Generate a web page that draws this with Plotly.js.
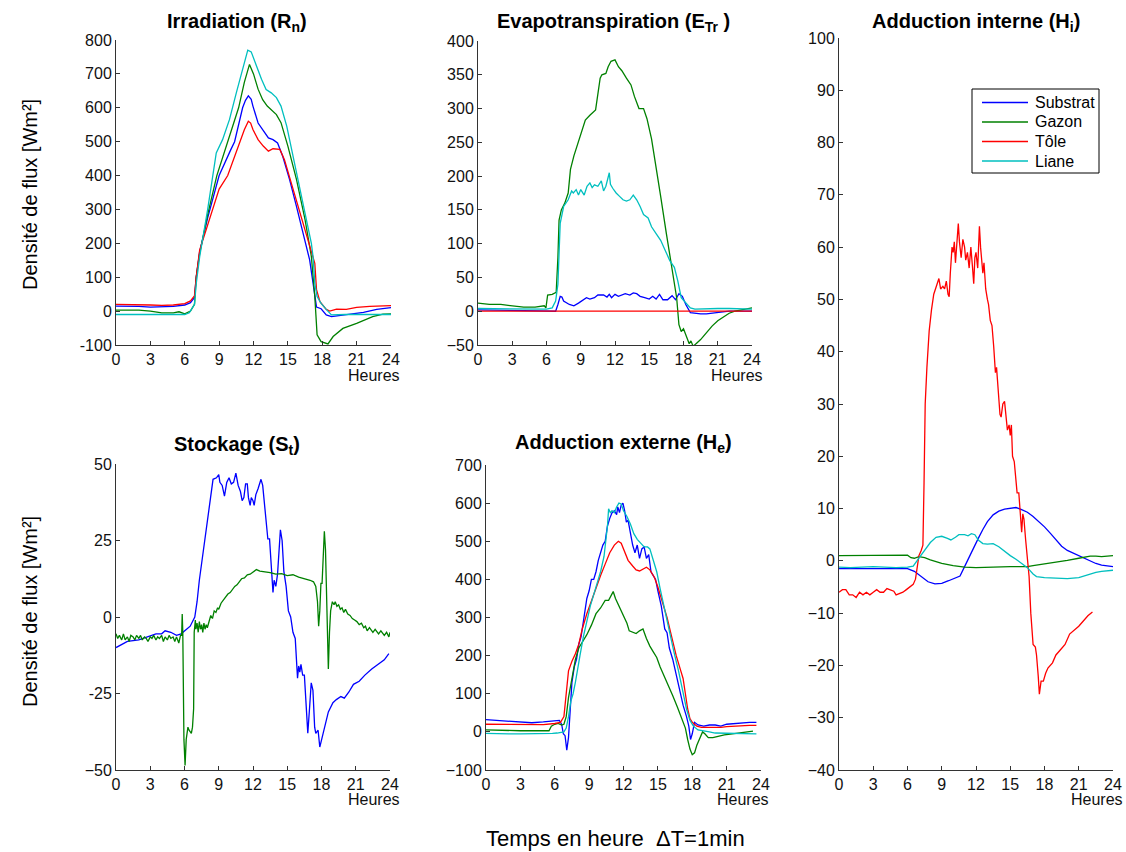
<!DOCTYPE html>
<html>
<head>
<meta charset="utf-8">
<script src="https://cdn.plot.ly/plotly-3.0.1.min.js"></script>
<style>
html,body{margin:0;padding:0;background:#fff;}
#chart{width:1126px;height:852px;}
</style>
</head>
<body>
<div id="chart"></div>
<script>
// ---------- Data ----------
const hourTicks = [0,3,6,9,12,15,18,21,24];
const seriesNames = ['Substrat','Gazon','Tôle','Liane'];
const seriesColors = ['#0000FF','#008000','#FF0000','#00BFBF'];

// Irradiation (Rn)
const irrSubT = [0,1,2,3,4,5,6,6.5,6.85,7,7.3,8,9,9.5,10,10.35,10.7,11.05,11.3,11.55,11.8,11.95,12.4,12.85,13.3,13.7,14.1,14.55,15.15,15.75,16.3,16.9,17.2,17.5,17.9,18.35,18.8,19.4,20.7,21.6,22.75,24];
const irrSubV = [15,15,14,12,12,14,18,25,40,100,175,275,400,440,475,500,550,600,622,635,625,605,555,531,511,506,496,457,388,309,231,151,82,12,7,-11,-16,-13,-8,-4,5,10];
const irrGazT = [0,1,2,3,4,5,5.5,6,6.5,6.85,7,7.3,8,8.8,9.5,10.2,10.7,11.2,11.65,12,12.4,12.8,13.2,14,14.4,15,15.75,16.5,17.05,17.35,17.55,17.9,18.5,18.95,19.8,21,21.85,22.4,23.3,24];
const irrGazV = [3,3,3,0,-5,-5,-2,-8,0,20,100,170,285,400,475,545,600,675,728,700,655,624,605,580,556,487,389,270,161,43,-70,-90,-97,-75,-51,-36,-24,-16,-9,-8];
const irrToleT = [0,1,2,3,4,5,6,6.5,6.85,7,7.3,8,9,9.75,10.3,10.8,11.2,11.55,11.75,11.95,12.4,12.85,13.3,13.7,14.3,14.7,15.3,15.9,16.5,17.05,17.35,17.5,17.8,18.35,18.65,19.25,20.1,21,22.15,24];
const irrToleV = [20,20,20,18,17,18,22,30,45,100,180,255,360,400,450,500,535,560,555,536,506,487,472,479,477,447,378,309,245,181,141,63,28,5,0,6,5,11,14,16];
const irrLianeT = [0,2,4,6,6.4,6.85,7,7.3,8,8.75,9.3,9.9,10.5,11.1,11.5,11.8,12.25,12.7,13.1,13.55,14,14.4,14.9,15.45,16,16.6,17.05,17.2,17.35,17.55,17.9,18.35,18.8,20,22,24];
const irrLianeV = [-10,-10,-10,-10,-5,20,80,160,300,467,506,565,644,723,770,765,723,684,654,644,630,605,546,457,368,279,200,160,82,43,23,5,-11,-10,-10,-10];

// Evapotranspiration (ETr)
const etSubT = [0,3,6,6.8,7.0,7.2,7.35,7.5,8.0,8.4,8.8,9.2,9.5,9.8,10.2,10.5,11,11.3,11.5,11.7,12,12.3,12.6,12.9,13.3,13.6,13.9,14.2,14.6,15,15.3,15.6,15.9,16.2,16.6,17.0,17.3,17.6,17.9,18.2,18.6,19,19.5,20,21,22,23,24];
const etSubV = [2,1,1,0,10,22,21,15,10,8,12,17,20,18,20,24,24,21,25,20,25,22,24,26,24,27,26,22,20,18,22,18,25,17,17,23,17,26,22,10,-2,-3,-4,-4,-2,0,0,0];
const etGazT = [0,1,2,3,4,5,5.8,5.95,6.1,6.5,6.85,7.0,7.1,7.3,7.6,7.9,8.1,8.4,8.8,9.2,9.4,9.8,10.3,10.7,10.85,11.2,11.4,11.65,12.0,12.3,12.6,13.0,13.4,13.7,14.1,14.5,14.8,15.2,15.6,16.0,16.5,17.0,17.4,17.6,17.8,18.0,18.3,18.5,18.65,18.85,19.1,19.5,20,20.5,21,21.5,22,22.5,23,23.5,24];
const etGazV = [12,10,10,8,6,6,8,5,24,25,28,80,135,150,160,175,210,230,250,270,283,290,298,345,350,352,362,370,372,362,356,345,335,318,300,300,285,255,215,170,115,60,20,-20,-30,-26,-40,-48,-44,-52,-48,-42,-32,-22,-14,-8,-3,0,2,4,5];
const etToleT = [0,24];
const etToleV = [0,0];
const etLianeT = [0,3,6,6.5,6.8,7.0,7.1,7.2,7.5,7.9,8.2,8.35,8.6,8.8,9.0,9.3,9.55,9.8,10.0,10.2,10.5,10.8,11.0,11.2,11.5,11.6,11.8,12.1,12.4,12.7,13.0,13.3,13.6,13.9,14.2,14.5,14.9,15.2,15.6,16.0,16.4,16.8,17.2,17.5,17.8,18.2,18.6,19,20,21,22,23,24];
const etLianeV = [4,3,3,5,15,40,100,130,155,165,178,175,180,172,180,172,185,190,183,187,185,193,178,185,205,188,182,175,170,165,163,165,172,165,155,143,138,125,115,105,90,75,65,45,20,12,5,3,4,4,4,3,3];

// Stockage (St)
const stSubT = [0,0.5,1,2,3,3.5,4,4.3,4.8,5.3,5.7,6,6.5,6.9,7.1,7.3,7.6,7.9,8.2,8.5,8.8,9.0,9.1,9.3,9.5,9.7,9.9,10.1,10.3,10.5,10.7,10.9,11.05,11.2,11.35,11.5,11.6,11.75,11.85,12.0,12.1,12.25,12.45,12.7,12.85,13.0,13.15,13.3,13.45,13.55,13.65,13.75,13.85,14.0,14.15,14.3,14.4,14.55,14.7,14.9,15.1,15.3,15.5,15.7,15.8,15.9,16.0,16.1,16.2,16.35,16.5,16.65,16.8,16.95,17.1,17.25,17.4,17.5,17.7,17.85,18.0,18.3,18.6,19.0,19.3,19.7,20.0,20.4,20.8,21.3,21.8,22.4,23,23.5,23.9];
const stSubV = [-10,-9,-8,-7.5,-6,-5.5,-5.5,-4.5,-5,-6,-5.5,-4.5,-3,0,5,12,20,28,37,45,45.5,46.5,44,43,39.5,44,45.5,43.5,44,47,43,41,38,39,43.5,43.5,39,36.5,39,38,36.5,40,42,45,43,37,30,25.5,25.5,20,14,8,12,10,14,24,28.5,25,15,10,2,0,-5,-7,-15,-20,-16,-18,-15.5,-19,-19,-28,-38,-30,-21.5,-24,-36,-38,-37,-42.5,-40,-36,-31,-28,-27,-26,-26.5,-24.5,-22,-21,-19,-17,-15.5,-14,-12];
const stGazT = [0,0.15,0.3,0.5,0.65,0.8,1,1.15,1.3,1.5,
  1.65,1.8,2,2.15,2.3,2.5,2.65,2.8,3,3.15,
  3.3,3.5,3.65,3.8,4,4.15,4.3,4.5,4.65,4.8,
  5,5.15,5.3,5.5,5.65,5.75,5.8,5.85,5.95,6.05,
  6.15,6.3,6.4,6.6,6.7,6.8,6.85,6.95,7.0,7.1,
  7.2,7.3,7.4,7.5,7.6,7.7,7.8,7.9,8.0,8.15,
  8.3,8.45,8.6,8.75,8.9,9.0,9.2,9.4,9.6,9.8,
  10.0,10.2,10.4,10.6,10.8,11.0,11.25,11.5,11.75,12.0,
  12.3,12.6,13,13.5,14,14.5,15,15.5,16,16.5,
  17,17.3,17.5,17.65,17.75,17.85,17.95,18.05,18.15,18.25,
  18.35,18.45,18.55,18.6,18.7,18.8,18.95,19.1,19.2,19.35,
  19.5,19.65,19.8,19.95,20.1,20.3,20.5,20.7,20.9,21.1,
  21.3,21.5,21.7,21.85,22.0,22.2,22.5,22.7,23,23.2,
  23.5,23.7,23.9,24];
const stGazV = [-5.5,-7,-6,-7.5,-5.5,-7.5,-6.5,-8,-6,-6.5,
  -7.5,-6,-7,-6,-7.5,-6.5,-7,-8,-6.5,-7,
  -6,-7.5,-6.5,-7,-6,-8,-6.5,-7.5,-6,-7,
  -6.5,-8,-6.5,-8.5,-6,-6,1,-5,-40,-48.5,
  -40,-36,-37,-38,-36,-30,-5,-1,-4,-2,
  -5,-1.5,-4,-2.5,-5,-2,-4,-2.5,-3.5,-1,
  0.5,-0.5,2,1.5,3,2.5,4.5,5.5,6.5,7.5,
  8,9,10,10.5,11.5,12.5,12.8,13.8,14,14.8,
  15.5,15,14.8,14.5,14,14.2,13.5,13.8,13,12.6,
  12,11.5,10,5,-3,2,11,11,22,28,
  22,5,-10,-17,-5,2,5,4,5,3.5,
  4,2.5,3,1.5,2.5,1,0.5,-0.5,-1,-1.5,
  -2.5,-2,-3.5,-3,-4.5,-3.5,-5,-4,-5.5,-4.5,
  -6,-5,-6.5,-5];

// Adduction externe (He)
const heSubT = [0,1,2,3,4,5,6,6.4,6.6,6.75,6.9,7.05,7.2,7.35,7.5,7.7,7.9,8.1,8.3,8.5,8.8,9.0,9.2,9.4,9.6,9.8,10.0,10.2,10.4,10.6,10.8,11.0,11.2,11.4,11.5,11.65,11.8,11.95,12.1,12.25,12.4,12.6,12.8,13.0,13.2,13.4,13.6,13.8,14.0,14.2,14.4,14.6,14.8,15.0,15.3,15.6,15.8,16.0,16.3,16.6,16.9,17.2,17.5,17.7,17.85,18.0,18.2,18.5,19.0,19.5,20.0,20.5,21,22,23,23.6];
const heSubV = [32,30,28,25,24,26,28,30,20,-5,-10,-48,-15,60,130,170,190,230,250,290,350,370,400,400,420,450,470,490,500,540,560,575,580,570,590,575,595,600,580,550,555,520,490,470,490,455,480,485,455,465,420,410,400,370,330,270,260,220,190,150,110,70,40,15,-20,-5,25,18,15,18,18,15,20,23,25,25];
const heGazT = [0,1,2,3,4,5,5.5,5.7,6.0,6.3,6.6,6.8,7.0,7.2,7.5,7.8,8.1,8.4,8.8,9.2,9.6,10.0,10.4,10.7,11.0,11.1,11.3,11.7,12.0,12.3,12.5,12.8,13.1,13.4,13.7,14.0,14.3,14.6,14.9,15.2,15.5,15.9,16.3,16.7,17.1,17.4,17.6,17.8,18.0,18.2,18.4,18.7,18.9,19.1,19.4,19.8,20.2,20.8,21.5,22.3,23.0,23.3];
const heGazV = [5,4,4,3,3,3,3,15,20,22,18,20,40,90,140,190,220,235,255,280,310,325,345,345,365,368,350,325,305,285,265,262,258,265,270,245,225,210,195,170,150,125,95,65,35,10,-20,-45,-60,-55,-35,-15,0,-5,-15,-15,-12,-8,-5,-2,1,2];
const heToleT = [0,1,2,3,4,5,6,6.5,6.8,7.0,7.2,7.5,7.8,8.1,8.4,8.8,9.2,9.6,10.0,10.4,10.8,11.2,11.55,11.8,12.1,12.4,12.8,13.1,13.4,13.7,14.0,14.3,14.7,15.0,15.4,15.8,16.2,16.6,17.0,17.2,17.4,17.6,17.8,18.0,18.4,18.8,19.5,20.5,21,22,23,23.6];
const heToleV = [20,20,20,19,19,19,22,25,40,100,160,185,205,230,270,310,345,380,410,440,470,490,500,495,470,450,435,425,422,428,432,425,405,380,340,300,250,200,160,140,100,60,35,25,15,12,12,12,14,16,17,17];
const heLianeT = [0,1,2,3,4,5,5.8,6.2,6.5,6.8,7.0,7.2,7.4,7.6,7.8,8.0,8.2,8.5,8.8,9.1,9.4,9.7,10.0,10.3,10.6,10.7,10.85,11.0,11.2,11.4,11.6,11.8,12.0,12.3,12.6,12.9,13.2,13.5,13.8,14.1,14.3,14.6,14.9,15.2,15.6,16.0,16.4,16.8,17.2,17.5,17.8,18.1,18.5,19.0,19.5,20,21,22,23,23.6];
const heLianeV = [-4,-5,-5,-5,-5,-5,-4,-3,-2,0,10,40,80,100,130,170,200,250,290,330,360,390,420,460,540,585,575,580,575,590,600,598,580,565,545,520,505,495,485,485,480,450,420,375,320,260,210,160,105,60,30,15,5,3,0,-3,-4,-5,-5,-5];

// Adduction interne (Hi)
const hiSubT = [0,3,6,6.6,7.2,7.8,8.4,9.0,9.6,10.2,10.6,11.0,11.4,11.8,12.2,12.6,13.0,13.5,14.0,14.5,15.0,15.5,16.0,16.5,17,17.5,18,18.5,19,19.5,20,20.5,21,21.5,22,22.5,23,24];
const hiSubV = [-1.5,-1.5,-1.5,-2,-3,-4,-4.4,-4.3,-3.8,-3.3,-2.9,-1.1,0.8,2.4,4.3,6,7.5,8.8,9.5,9.9,10.1,10.2,9.8,9.3,8.5,7.5,6.5,5.3,4,2.8,2,1.5,1,0.4,-0.1,-0.5,-0.8,-1.1];
const hiGazT = [0,6,6.3,6.6,7.0,7.5,8,8.5,9,10,10.5,11,12,13,14,15,16,16.5,17,18,19,20,21,22,22.5,23,24];
const hiGazV = [1,1.1,0.6,0.5,0.8,0.6,0.2,-0.2,-0.5,-0.9,-1.1,-1.2,-1.3,-1.2,-1.2,-1.1,-1.1,-1.1,-0.9,-0.6,-0.3,0.1,0.5,0.9,0.9,0.8,1];
const hiToleT = [0,0.3,0.6,0.9,1.2,1.5,1.8,2.1,2.4,2.7,3.0,3.3,3.6,3.9,4.2,4.5,4.8,5.0,5.3,5.6,5.9,6.2,6.5,6.7,6.9,7.0,7.2,7.35,7.45,7.55,7.7,7.9,8.1,8.3,8.6,8.75,8.9,9.1,9.25,9.4,9.55,9.65,9.75,9.9,10.0,10.1,10.2,10.3,10.45,10.55,10.7,10.85,11.0,11.1,11.25,11.4,11.55,11.7,11.8,11.9,12.0,12.15,12.3,12.4,12.5,12.6,12.7,12.85,13.0,13.1,13.25,13.4,13.55,13.7,13.8,13.95,14.1,14.2,14.35,14.5,14.6,14.75,14.9,15.0,15.1,15.2,15.35,15.45,15.6,15.75,15.85,16.0,16.1,16.2,16.35,16.5,16.65,16.8,16.9,17.0,17.2,17.3,17.45,17.55,17.7,17.9,18.1,18.3,18.7,19.0,19.4,19.8,20.2,20.6,21.0,21.4,21.8,22.2];
const hiToleV = [-6,-5.5,-5.5,-6.5,-6.5,-7,-6,-6.5,-6,-6.5,-6,-5.5,-6,-6,-5.3,-5.5,-5.8,-6.5,-6.3,-6,-5.5,-5,-4.5,-3.5,-1,1,2,3,15,30,37,44,48,51,53,54,52,52.5,52,53.5,51,50.5,55,60,59,61,57,60,64.5,61,58,61.5,60,57.5,59,56,60,56,53,58,59,56,64,60,58,55,57,52,50,49,46,45,41,36,37,33,28,27.5,30,30.5,28,25,26,24,26,20,19,17,13,13,9,5.5,9,8,4,1,-3,-10,-14,-16,-16.5,-18,-22,-25.5,-23,-23,-21.5,-20.5,-19.5,-18,-17,-16,-14,-13.3,-12.5,-11.5,-10.5,-9.8];
const hiLianeT = [0,1,2,3,4,5,6,6.5,7.0,7.5,8.0,8.5,9.0,9.5,9.8,10.2,10.5,11,11.3,11.6,11.9,12.2,12.6,13,13.5,14,14.5,15,15.5,16,16.5,17,17.3,18,19,19.5,20,21,22,22.5,23,24];
const hiLianeV = [-1.2,-1.3,-1.2,-1.1,-1.2,-1.3,-1.2,-1,0.5,2,3.5,4.5,4.7,4.3,4,4.5,5,5,4.8,5.2,5,4,3.3,3.2,3.3,2.7,1.8,1,0.3,-0.5,-1.3,-2.5,-3,-3.2,-3.3,-3.4,-3.4,-3.2,-2.5,-2.2,-2,-1.8];

// Y tick labels
const irrTicks = [-100,0,100,200,300,400,500,600,700,800];
const irrTickText = ['-100','0','100','200','300','400','500','600','700','800'];
const etTicks = [-50,0,50,100,150,200,250,300,350,400];
const etTickText = ['\u221250','0','50','100','150','200','250','300','350','400'];
const stTicks = [-50,-25,0,25,50];
const stTickText = ['\u221250','-25','0','25','50'];
const heTicks = [-100,0,100,200,300,400,500,600,700];
const heTickText = ['\u2212100','0','100','200','300','400','500','600','700'];
const hiTicks = [-40,-30,-20,-10,0,10,20,30,40,50,60,70,80,90,100];
const hiTickText = ['\u221240','\u221230','\u221220','\u221210','0','10','20','30','40','50','60','70','80','90','100'];

// ---------- Build ----------
const FONT = 'Liberation Sans, Arial, Helvetica, sans-serif';
const W = 1126, H = 852;
const px = v => v / W;
const py = v => 1 - v / H;

const panels = [
  {xa:'x',  ya:'y',  series:[[irrSubT,irrSubV],[irrGazT,irrGazV],[irrToleT,irrToleV],[irrLianeT,irrLianeV]]},
  {xa:'x2', ya:'y2', series:[[etSubT,etSubV],[etGazT,etGazV],[etToleT,etToleV],[etLianeT,etLianeV]]},
  {xa:'x3', ya:'y3', series:[[stSubT,stSubV],[stGazT,stGazV]]},
  {xa:'x4', ya:'y4', series:[[heSubT,heSubV],[heGazT,heGazV],[heToleT,heToleV],[heLianeT,heLianeV]]},
  {xa:'x5', ya:'y5', series:[[hiSubT,hiSubV],[hiGazT,hiGazV],[hiToleT,hiToleV],[hiLianeT,hiLianeV]]}
];

const traces = [];
panels.forEach(p => {
  p.series.forEach((s, i) => {
    traces.push({
      type:'scatter', mode:'lines', x:s[0], y:s[1], xaxis:p.xa, yaxis:p.ya,
      name:seriesNames[i], line:{color:seriesColors[i], width:1.3},
      showlegend:false, hoverinfo:'skip'
    });
  });
});

function xAxis(l, r, anchor) {
  return {domain:[px(l), px(r)], anchor:anchor, range:[0,24], tickvals:hourTicks,
    ticks:'inside', ticklen:4, tickwidth:1, tickcolor:'#333', showline:true, linecolor:'#333',
    linewidth:1, showgrid:false, zeroline:false, tickfont:{size:16, color:'#111', family:FONT}};
}
function yAxis(top, bottom, anchor, range, vals, text) {
  return {domain:[py(bottom), py(top)], anchor:anchor, range:range, tickvals:vals, ticktext:text,
    ticks:'inside', ticklen:4, tickwidth:1, tickcolor:'#333', showline:true, linecolor:'#333',
    linewidth:1, showgrid:false, zeroline:false, tickfont:{size:16, color:'#111', family:FONT}};
}

const ann = [];
function addText(x, y, text, opts) {
  ann.push(Object.assign({xref:'paper', yref:'paper', x:px(x), y:py(y), text:text, showarrow:false,
    xanchor:'center', yanchor:'middle', font:{family:FONT, size:16, color:'#000'}}, opts||{}));
}
const titleFont = {family:FONT, size:20, color:'#000', weight:'bold'};
addText(237, 22, '<b>Irradiation (R<sub>n</sub>)</b>', {font:titleFont});
addText(613, 22, '<b>Evapotranspiration (E<sub>Tr</sub> )</b>', {font:titleFont});
addText(976, 22, '<b>Adduction interne (H<sub>i</sub>)</b>', {font:titleFont});
addText(237, 445, '<b>Stockage (S<sub>t</sub>)</b>', {font:titleFont});
addText(623, 443, '<b>Adduction externe (H<sub>e</sub>)</b>', {font:titleFont});
const hFont = {family:FONT, size:16, color:'#111'};
addText(374, 375, 'Heures', {font:hFont});
addText(737, 375, 'Heures', {font:hFont});
addText(374, 799, 'Heures', {font:hFont});
addText(743, 799, 'Heures', {font:hFont});
addText(1097, 799, 'Heures', {font:hFont});
addText(30, 195, 'Densité de flux [Wm²]', {textangle:-90, font:{family:FONT, size:20, color:'#000'}});
addText(30, 612, 'Densité de flux [Wm²]', {textangle:-90, font:{family:FONT, size:20, color:'#000'}});
addText(615, 838, 'Temps en heure&nbsp;&nbsp;ΔT=1min', {font:{family:FONT, size:22, color:'#000'}});

// Legend box (drawn in the Hi panel, MATLAB style)
const shapes = [{type:'rect', xref:'paper', yref:'paper', x0:px(972), x1:px(1099), y0:py(173), y1:py(89),
  line:{color:'#000', width:1}, fillcolor:'#fff', layer:'above'}];
const legendRowY = [102.5, 122, 141.5, 161];
seriesNames.forEach((nm, i) => {
  shapes.push({type:'line', xref:'paper', yref:'paper', x0:px(982), x1:px(1028),
    y0:py(legendRowY[i]), y1:py(legendRowY[i]), line:{color:seriesColors[i], width:1.3}, layer:'above'});
  addText(1033, legendRowY[i], nm, {xanchor:'left', font:{family:FONT, size:16, color:'#000'}});
});

const layout = {
  width:W, height:H, margin:{l:0, r:0, t:0, b:0}, paper_bgcolor:'#fff', plot_bgcolor:'#fff',
  font:{family:FONT, color:'#000'},
  xaxis: xAxis(116, 391, 'y'),
  yaxis: yAxis(40, 345, 'x', [-100,800], irrTicks, irrTickText),
  xaxis2: xAxis(478, 752, 'y2'),
  yaxis2: yAxis(41, 345, 'x2', [-50,400], etTicks, etTickText),
  xaxis3: xAxis(116, 390, 'y3'),
  yaxis3: yAxis(464, 770, 'x3', [-50,50], stTicks, stTickText),
  xaxis4: xAxis(486, 761, 'y4'),
  yaxis4: yAxis(465, 770, 'x4', [-100,700], heTicks, heTickText),
  xaxis5: xAxis(839, 1113, 'y5'),
  yaxis5: yAxis(38, 770, 'x5', [-40,100], hiTicks, hiTickText),
  showlegend:false,
  shapes: shapes,
  annotations: ann
};

Plotly.newPlot('chart', traces, layout, {displayModeBar:false, staticPlot:true});
</script>
</body>
</html>
